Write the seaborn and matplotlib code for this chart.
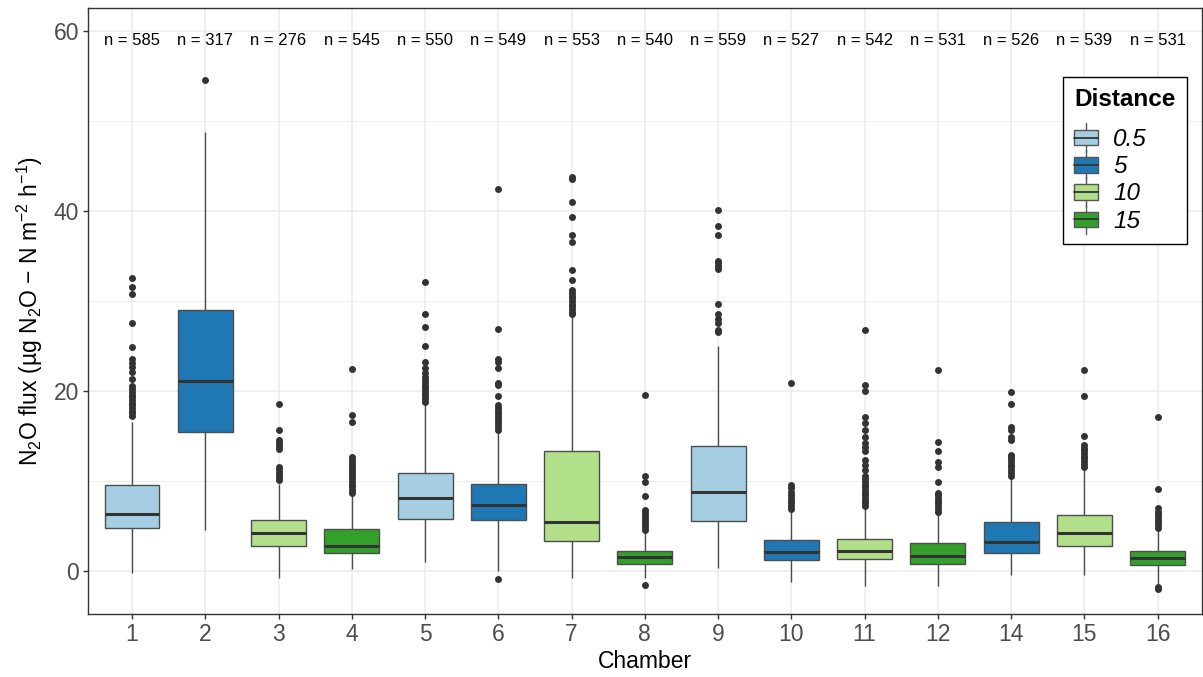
import numpy as np
import pandas as pd
import matplotlib
matplotlib.use("Agg")
import matplotlib.pyplot as plt
import seaborn as sns
from matplotlib.patches import Rectangle
from matplotlib.lines import Line2D
from matplotlib.legend_handler import HandlerBase
from matplotlib.ticker import FixedLocator

# === Values ===
chambers = ['1', '2', '3', '4', '5', '6', '7', '8', '9', '10', '11', '12', '14', '15', '16']
distance = ['0.5', '5', '10', '15', '0.5', '5', '10', '15', '0.5', '5', '10', '15', '5', '10', '15']
n_obs = [585, 317, 276, 545, 550, 549, 553, 540, 559, 527, 542, 531, 526, 539, 531]

whisker_lo = [-0.26, 4.56, -0.81, 0.26, 1.04, 0.04, -0.81, -0.81, 0.37, -1.22, -1.63, -1.63, -0.44, -0.44, -1.5]
q1 = [4.76, 15.44, 2.78, 2.0, 5.81, 5.67, 3.33, 0.78, 5.56, 1.19, 1.33, 0.78, 2.0, 2.78, 0.67]
median = [6.3, 21.15, 4.22, 2.74, 8.15, 7.33, 5.48, 1.56, 8.78, 2.11, 2.22, 1.67, 3.26, 4.22, 1.41]
q3 = [9.5, 29.0, 5.67, 4.63, 10.93, 9.63, 13.33, 2.26, 13.85, 3.44, 3.59, 3.07, 5.41, 6.26, 2.26]
whisker_hi = [16.6, 48.8, 9.7, 8.5, 18.5, 15.5, 28.2, 4.37, 25.0, 6.78, 6.89, 6.3, 10.3, 11.2, 4.56]

outliers = [
    [17.2, 17.5, 17.8, 18.1, 18.4, 18.7, 19.0, 19.3, 19.6, 19.9, 20.2, 20.5, 21.3, 22.1, 22.7, 23.1, 23.6, 24.9, 27.6, 30.8, 31.5, 32.6],
    [54.6],
    [10.1, 10.4, 10.7, 11.0, 11.3, 11.6, 13.6, 13.9, 14.2, 14.6, 15.7, 18.6],
    [8.7, 9.0, 9.3, 9.6, 9.9, 10.2, 10.5, 10.8, 11.1, 11.4, 11.7, 12.0, 12.3, 12.7, 16.5, 17.3, 22.4],
    [18.8, 19.1, 19.4, 19.7, 20.0, 20.3, 20.6, 20.9, 21.2, 21.6, 22.0, 22.5, 23.2, 25.0, 27.1, 28.6, 32.1],
    [-0.93, 15.7, 16.0, 16.3, 16.6, 16.9, 17.2, 17.5, 17.8, 18.1, 18.4, 19.4, 20.7, 20.9, 22.6, 23.2, 23.6, 26.9, 42.4],
    [28.5, 28.8, 29.1, 29.4, 29.7, 30.0, 30.3, 30.6, 30.9, 31.2, 32.3, 33.4, 36.6, 37.3, 39.3, 41.0, 43.6, 43.8],
    [-1.59, 4.6, 4.9, 5.2, 5.5, 5.8, 6.1, 6.4, 6.8, 8.3, 9.9, 10.6, 19.5],
    [26.5, 26.8, 27.5, 28.0, 28.5, 29.7, 33.6, 33.9, 34.2, 34.4, 37.3, 38.3, 40.1],
    [6.9, 7.2, 7.5, 7.8, 8.1, 8.4, 8.8, 9.2, 9.5, 20.9],
    [7.2, 7.5, 7.8, 8.1, 8.4, 8.7, 9.0, 9.3, 9.6, 9.9, 10.2, 10.5, 11.2, 11.8, 12.3, 13.3, 13.8, 14.2, 14.9, 15.7, 16.4, 17.1, 20.0, 20.7, 26.8],
    [6.6, 6.9, 7.2, 7.5, 7.8, 8.1, 8.4, 8.7, 9.9, 11.5, 12.1, 13.3, 14.3, 22.3],
    [10.6, 10.9, 11.2, 11.5, 11.8, 12.1, 12.4, 12.7, 12.9, 14.6, 14.9, 15.7, 16.0, 18.6, 19.9],
    [11.6, 11.9, 12.2, 12.5, 12.8, 13.1, 13.4, 13.7, 14.0, 15.0, 19.4, 22.3],
    [-2.0, -1.8, 4.8, 5.1, 5.4, 5.7, 6.0, 6.3, 6.6, 7.0, 9.1, 17.1],
]

dist_levels = ['0.5', '5', '10', '15']
dist_colors = ['#A6CEE3', '#1F78B4', '#B2DF8A', '#33A02C']

# === Long-form table: a weighted sample per chamber that reproduces the read quartiles ===
K = 200
rows = []
for i, ch in enumerate(chambers):
    vals = [whisker_lo[i]] + [q1[i]] * K + [median[i]] * K + [q3[i]] * K + [whisker_hi[i]] + outliers[i]
    for v in vals:
        rows.append((ch, distance[i], v))
df = pd.DataFrame(rows, columns=['Chamber', 'Distance', 'Flux'])

# === Plot ===
sns.set_style('white')
plt.rcParams['font.family'] = ['Liberation Sans', 'DejaVu Sans']
plt.rcParams['mathtext.fontset'] = 'custom'
plt.rcParams['mathtext.rm'] = 'Liberation Sans'
plt.rcParams['mathtext.it'] = 'Liberation Sans:italic'
plt.rcParams['text.color'] = 'black'
plt.rcParams['axes.labelcolor'] = 'black'

fig = plt.figure(figsize=(12.03, 6.77), dpi=100)
ax = fig.add_axes([0.0732, 0.0931, 0.9256, 0.8951])

dark = '#333333'
sns.boxplot(
    data=df, x='Chamber', y='Flux', hue='Distance',
    order=chambers, hue_order=dist_levels, palette=dist_colors, saturation=1,
    dodge=False, width=0.75, linewidth=1.0, linecolor=dark,
    showcaps=False, legend=False, ax=ax,
    boxprops=dict(edgecolor='#4D4D4D'),
    medianprops=dict(color=dark, linewidth=2.2),
    whiskerprops=dict(color='#4D4D4D', linewidth=1.0),
    flierprops=dict(marker='o', markersize=5, markerfacecolor=dark,
                    markeredgecolor=dark, markeredgewidth=0),
)

# sample sizes along the top
for i, n in enumerate(n_obs):
    ax.text(i, 59, f'n = {n}', ha='center', va='center', fontsize=12, color='black')

ax.set_xlim(-0.6, len(chambers) - 0.4)
ax.set_ylim(-4.78, 62.56)
ax.set_yticks([0, 20, 40, 60])
ax.yaxis.set_minor_locator(FixedLocator([10, 30, 50]))
ax.set_axisbelow(True)
ax.grid(which='major', color='#EBEBEB', linewidth=1.1)
ax.grid(which='minor', axis='y', color='#EBEBEB', linewidth=0.6)
ax.tick_params(which='minor', length=0)
ax.tick_params(which='major', length=3.5, width=1, color=dark,
               labelsize=16.5, labelcolor='#4D4D4D', pad=3, bottom=True, left=True)
for s in ax.spines.values():
    s.set_visible(True)
    s.set_color(dark)
    s.set_linewidth(1.0)

ax.set_xlabel('Chamber', fontsize=16.5, labelpad=3, color='black')
ax.set_ylabel('N$_2$O flux (µg N$_2$O \u2212 N m$^{-2}$ h$^{-1}$)', fontsize=16.5, labelpad=6, color='black')


# === Legend with box-shaped keys ===
class BoxKey(HandlerBase):
    def create_artists(self, legend, orig_handle, xdescent, ydescent, width, height, fontsize, trans):
        x0, y0 = -xdescent, -ydescent
        cx = x0 + width / 2
        box = Rectangle((x0, y0 + height * 0.1), width, height * 0.8,
                        facecolor=orig_handle.get_facecolor(), edgecolor='#555555', lw=1, transform=trans)
        med = Line2D([x0, x0 + width], [y0 + height / 2] * 2, color=dark, lw=1.3, transform=trans)
        w1 = Line2D([cx, cx], [y0 - height * 0.25, y0 + height * 0.1], color='#555555', lw=1, transform=trans)
        w2 = Line2D([cx, cx], [y0 + height * 0.9, y0 + height * 1.25], color='#555555', lw=1, transform=trans)
        return [w1, w2, box, med]


handles = [Rectangle((0, 0), 1, 1, facecolor=c) for c in dist_colors]
leg = ax.legend(handles, dist_levels, handler_map={Rectangle: BoxKey()},
                title='Distance', loc='upper right', bbox_to_anchor=(0.9867, 0.8857),
                borderaxespad=0, fancybox=False, framealpha=1, edgecolor='black',
                prop={'size': 17.5, 'style': 'italic'}, title_fontproperties={'size': 17.5, 'weight': 'bold'},
                handlelength=0.95, handleheight=0.85, handletextpad=0.65, labelspacing=0.17,
                borderpad=0.45, alignment='left', labelcolor='black')
leg.get_title().set_color('black')
leg.get_frame().set_linewidth(1.0)
leg._legend_box.sep = 12  # extra gap between the title and the keys

plt.savefig('out.png', dpi=100)
